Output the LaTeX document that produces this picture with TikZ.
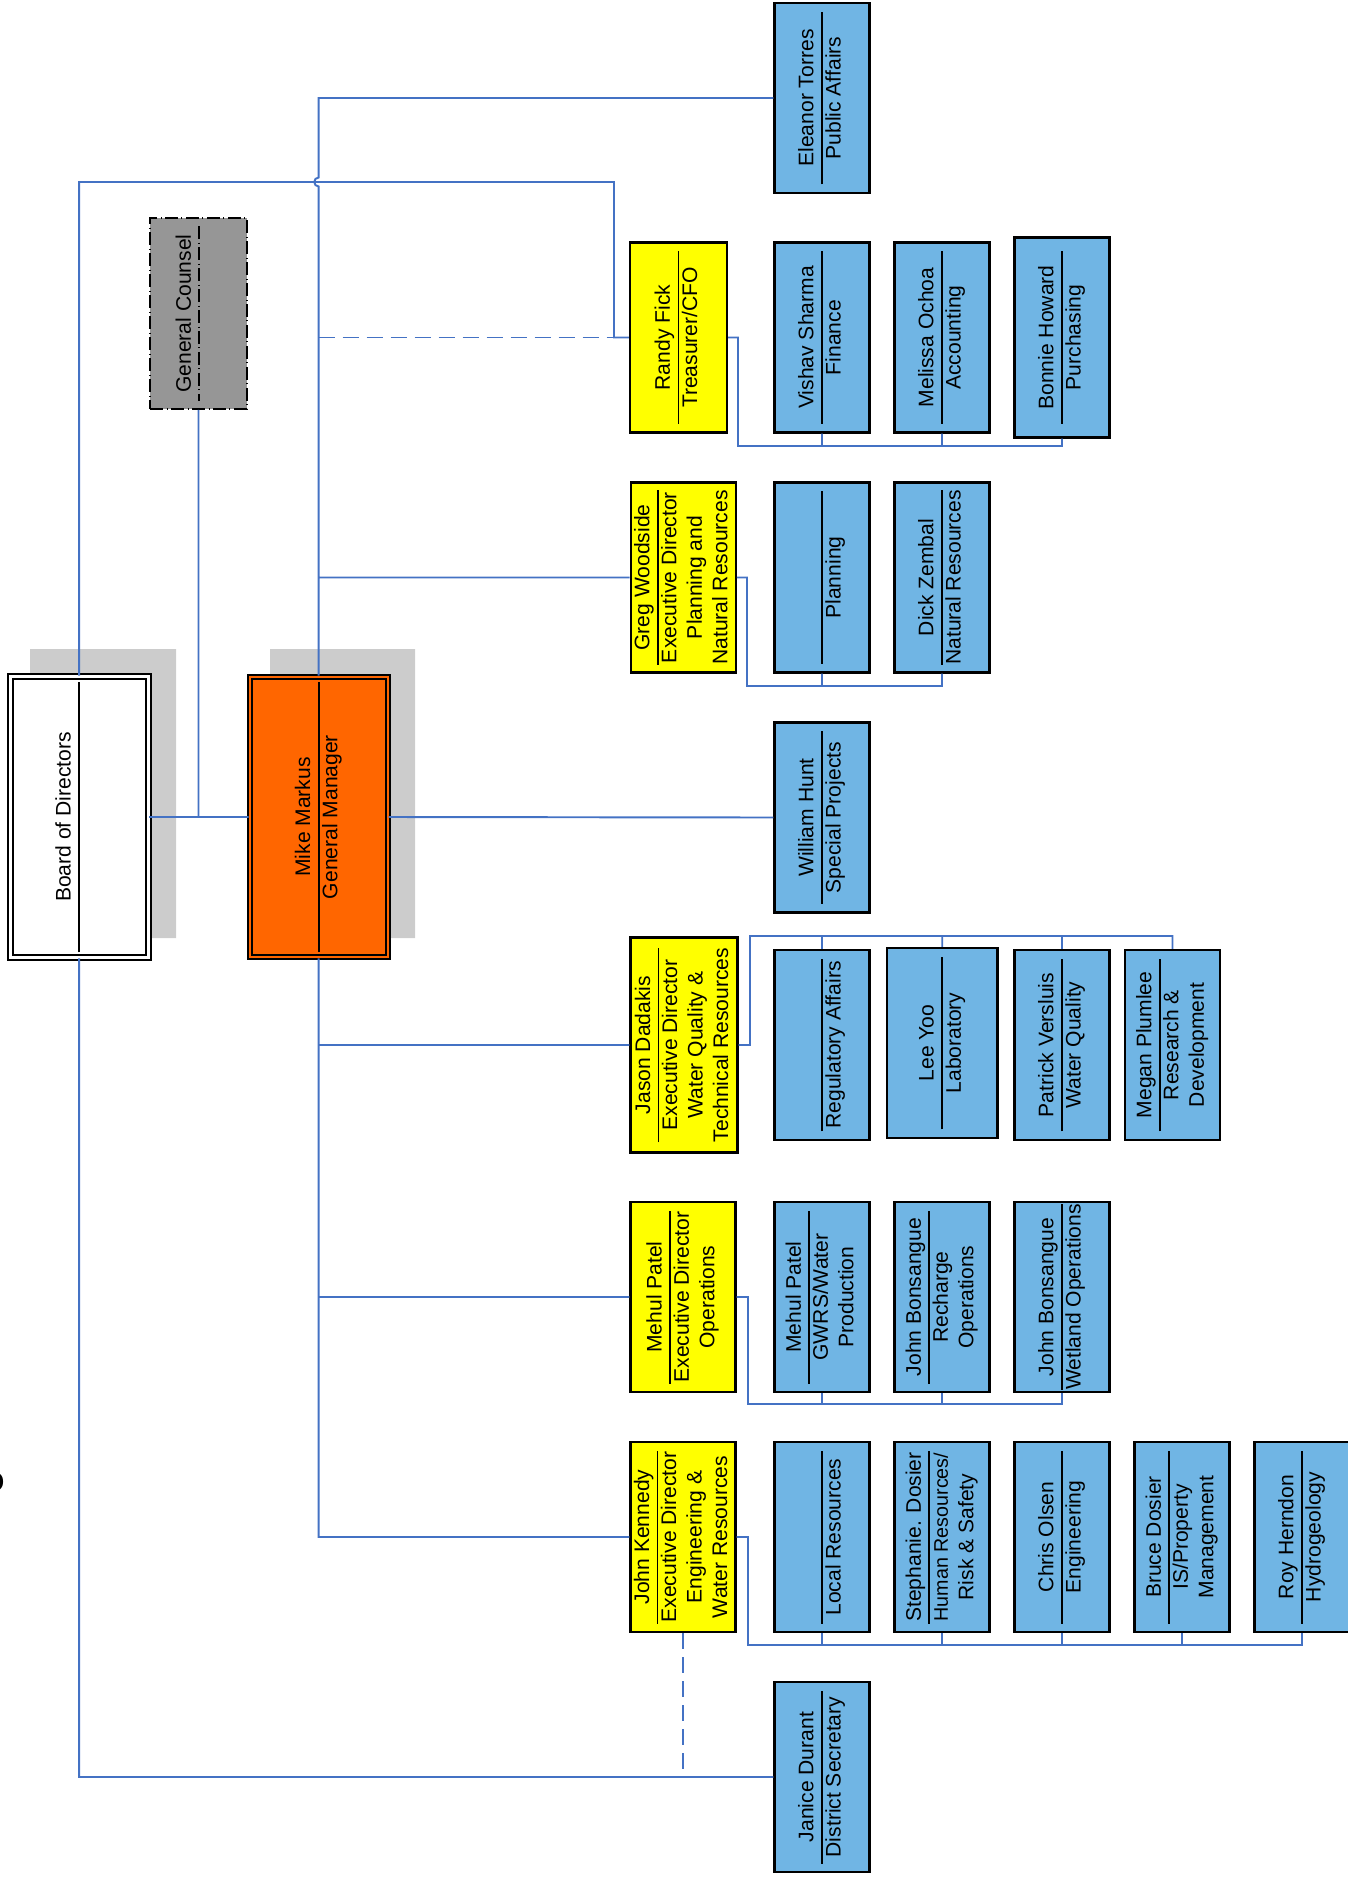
\documentclass[tikz,border=0pt]{standalone}
\usepackage{fontspec}
\setmainfont{Liberation Sans}
\usepackage{graphicx}
\usepackage{tikz}
\definecolor{staffblue}{RGB}{112,181,228}
\definecolor{execyellow}{RGB}{255,255,0}
\definecolor{gmorange}{RGB}{255,102,0}
\definecolor{counselgray}{RGB}{150,150,150}
\definecolor{shadegray}{RGB}{204,204,204}
\definecolor{linkblue}{RGB}{68,114,196}
\setlength{\arrayrulewidth}{1pt}
\newcommand{\orgtext}[3][3.46cm]{\rotatebox{90}{\begin{tabular}{@{}c@{}}\makebox[#1]{#2}\\\hline\mbox{}#3\end{tabular}}}
\tikzstyle{orgbox}=[draw=black,line width=1.2pt,inner sep=0pt,minimum width=1.9cm,minimum height=3.8cm,font=\fontsize{12pt}{14.5pt}\selectfont]
\tikzstyle{staffbox}=[orgbox,fill=staffblue]
\tikzstyle{execbox}=[orgbox,fill=execyellow,minimum width=2.1cm]
\tikzstyle{topbox}=[orgbox,line width=0.04cm,minimum width=2.76cm,minimum height=5.62cm]
\tikzstyle{counselbox}=[orgbox,fill=counselgray,line width=0.04cm,dash pattern=on 0.26cm off 0.07cm on 0.02cm off 0.07cm,minimum width=1.94cm,minimum height=3.82cm]
\tikzstyle{counselrule}=[black,line width=0.04cm,dash pattern=on 0.26cm off 0.07cm on 0.02cm off 0.07cm]
\tikzstyle{orgline}=[draw=linkblue,line width=1.1pt]
\tikzstyle{dashline}=[orgline,dash pattern=on 0.32cm off 0.16cm]
\tikzstyle{backshade}=[fill=shadegray]

\begin{document}
\begin{tikzpicture}[x=0.02cm,y=-0.02cm]
	\useasboundingbox (0,0) rectangle (1348,1879);
	\fill[backshade] (30,649) rectangle (176,938) (270,649) rectangle (415,938);

	\node[topbox,fill=white,double=white,double distance=0.06cm] (board) at (79.2,817) {\orgtext[5.42cm]{Board of Directors}{}};
	\node[topbox,fill=gmorange,double=gmorange,double distance=0.04cm] (gm) at (318.7,817) {\orgtext[5.42cm]{Mike Markus}{General Manager}};
	\node[counselbox] (counsel) at (198.5,313.5) {\rotatebox{90}{\begin{tabular}{@{}c@{}}General Counsel\\ \mbox{}\end{tabular}}};
	\draw[counselrule] ([yshift=-0.18cm]counsel.north) -- ([yshift=0.18cm]counsel.south);

	\node[staffbox] (affairs) at (822,98) {\orgtext{Eleanor Torres}{Public Affairs}};
	\node[execbox,minimum width=1.94cm] (treasurer) at (678.5,337.5) {\orgtext{Randy Fick}{Treasurer/CFO}};
	\node[staffbox] (finance) at (822,337.5) {\orgtext{Vishav Sharma}{Finance}};
	\node[staffbox] (accounting) at (942,337.5) {\orgtext{Melissa Ochoa}{Accounting}};
	\node[staffbox,minimum height=4.0cm] (purchasing) at (1062,337.5) {\orgtext{Bonnie Howard}{Purchasing}};

	\node[execbox] (planningdir) at (683.25,577.5) {\orgtext{Greg Woodside}{Executive Director\\Planning and\\Natural Resources}};
	\node[staffbox] (planning) at (822,577.5) {\orgtext{}{Planning}};
	\node[staffbox] (natres) at (942,577.5) {\orgtext{Dick Zembal}{Natural Resources}};

	\node[staffbox] (projects) at (822,817.5) {\orgtext{William Hunt}{Special Projects}};

	\node[execbox,minimum width=2.14cm,minimum height=4.3cm] (quality) at (684,1045) {\orgtext{Jason Dadakis}{Executive Director\\Water Quality \&\\Technical Resources}};
	\node[staffbox] (regulatory) at (822,1045) {\orgtext{}{Regulatory Affairs}};
	\node[staffbox,minimum width=2.21cm] (laboratory) at (942.25,1043) {\orgtext{Lee Yoo}{Laboratory}};
	\node[staffbox] (waterquality) at (1062,1045) {\orgtext{Patrick Versluis}{Water Quality}};
	\node[staffbox] (research) at (1172.5,1045) {\orgtext{Megan Plumlee}{Research \&\\Development}};

	\node[execbox] (operations) at (683,1297) {\orgtext{Mehul Patel}{Executive Director\\Operations}};
	\node[staffbox] (production) at (822,1297) {\orgtext{Mehul Patel}{GWRS/Water\\Production}};
	\node[staffbox] (recharge) at (942,1297) {\orgtext{John Bonsangue}{Recharge\\Operations}};
	\node[staffbox] (wetland) at (1062,1297) {\orgtext{John Bonsangue}{Wetland Operations}};

	\node[execbox] (engwater) at (683,1537) {\orgtext{John Kennedy}{Executive Director\\Engineering \&\\Water Resources}};
	\node[staffbox] (localres) at (822,1537) {\orgtext{}{Local Resources}};
	\node[staffbox] (hr) at (942,1537) {\orgtext{Stephanie. Dosier}{{\fontsize{11.2pt}{14.5pt}\selectfont Human Resources/}\\Risk \& Safety}};
	\node[staffbox] (engineering) at (1062,1537) {\orgtext{Chris Olsen}{Engineering}};
	\node[staffbox] (property) at (1182,1537) {\orgtext{Bruce Dosier}{IS/Property\\Management}};
	\node[staffbox] (hydro) at (1302,1537) {\orgtext{Roy Herndon}{Hydrogeology}};

	\node[staffbox] (secretary) at (822,1777) {\orgtext{Janice Durant}{District Secretary}};

	\node[font=\bfseries\fontsize{20pt}{24pt}\selectfont] (cut) at (-6,1482) {o};

	\coordinate (boardtop) at (board.north |- 0,182);
	\coordinate (cfobend) at (614,182);
	\coordinate (hop) at (gm.north |- boardtop);
	\coordinate (finbus) at (738,446);
	\coordinate (natbus) at (747,686);
	\coordinate (wqbus) at (750,936);
	\coordinate (opsbus) at (748,1404);
	\coordinate (engbus) at (748,1645);

	\draw[orgline]
		(board.north) -- (boardtop) -- (cfobend) |- (treasurer.west)
		(gm.north) -- ([yshift=-0.09cm]hop) arc[start angle=270,end angle=90,radius=0.09cm] |- (affairs.west)
		(counsel.south) -- (counsel.south |- board.east)
		(board.east) -- (gm.west)
		(gm.east) -- (projects.west)
		(gm.north |- planningdir.west) -- (planningdir.west)
		(gm.south) |- (engwater.west)
		(gm.south |- quality.west) -- (quality.west)
		(gm.south |- operations.west) -- (operations.west)
		(board.south) |- (secretary.west)

		(treasurer.east) -| (finbus) -| (purchasing.south)
		(finance.south) -- (finance.south |- finbus)
		(accounting.south) -- (accounting.south |- finbus)

		(planningdir.east) -| (natbus) -| (natres.south)
		(planning.south) -- (planning.south |- natbus)

		(quality.east) -| (wqbus) -| (research.north)
		(regulatory.north) -- (regulatory.north |- wqbus)
		(laboratory.north) -- (laboratory.north |- wqbus)
		(waterquality.north) -- (waterquality.north |- wqbus)

		(operations.east) -| (opsbus) -| (wetland.south)
		(production.south) -- (production.south |- opsbus)
		(recharge.south) -- (recharge.south |- opsbus)

		(engwater.east) -| (engbus) -| (hydro.south)
		(localres.south) -- (localres.south |- engbus)
		(hr.south) -- (hr.south |- engbus)
		(engineering.south) -- (engineering.south |- engbus)
		(property.south) -- (property.south |- engbus)
	;
	\draw[dashline]
		(gm.north |- treasurer.west) -- (cfobend |- treasurer.west)
		(engwater.south) -- (engwater.south |- secretary.west)
	;
\end{tikzpicture}
\end{document}
